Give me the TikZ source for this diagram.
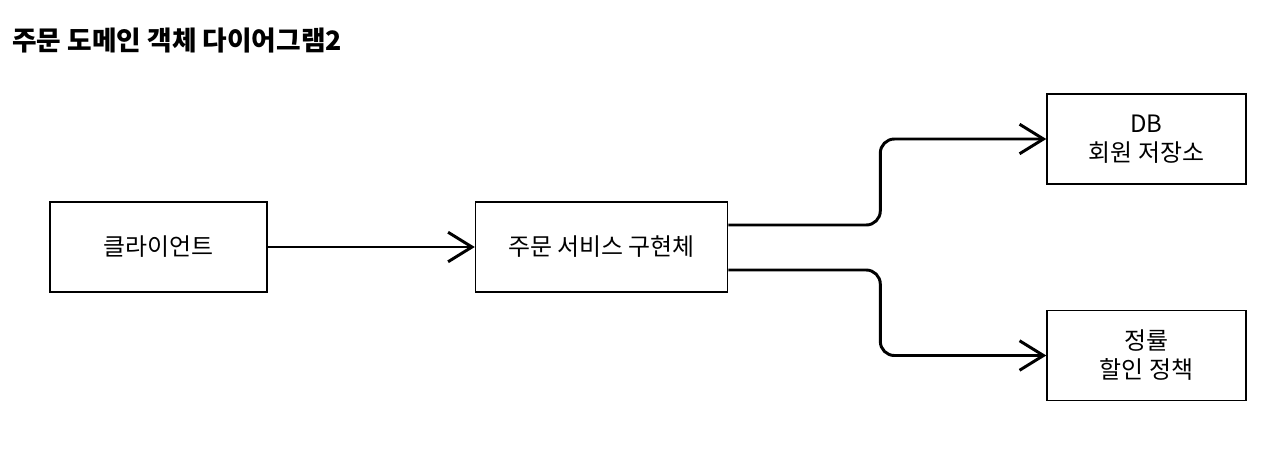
\documentclass[tikz,border=0pt]{standalone}
\usepackage{fontspec}
\setmainfont{Noto Sans CJK KR}
\usetikzlibrary{positioning, arrows.meta}

\begin{document}
\begin{tikzpicture}[
  x=0.025cm, y=-0.025cm,
  every node/.style={font=\fontsize{17}{20.6}\selectfont},
  box/.style={draw, line width=1pt, minimum width=5.425cm, minimum height=2.25cm,
    align=center, inner sep=0pt},
  arr/.style={-{Straight Barb[length=17pt, width=21pt]}, line width=2.1pt, rounded corners=10pt}
]
  \useasboundingbox (0,0) rectangle (1280,455);

  % Title
  \node[anchor=west, font=\fontsize{19}{22}\selectfont\bfseries, inner sep=0pt] (title) at (12,41)
    {주문 도메인 객체 다이어그램2};

  % Client
  \node[box] (client) at (158.5,247) {클라이언트};

  % Order service
  \node[box, right=5.175cm of client, minimum width=6.3cm] (svc) {주문 서비스 구현체};

  % Member repository
  \node[box, minimum width=4.975cm] (db) at (1146.5,139) {DB\\회원 저장소};

  % Rate discount policy
  \node[box, minimum width=4.975cm] (rate) at (1146.5,355.5) {정률\\할인 정책};

  % Arrows
  \draw[arr] (client) -- (svc);
  \draw[arr] ([yshift=0.55cm]svc.east) -- ++(3.8cm,0) |- (db.west);
  \draw[arr] ([yshift=-0.575cm]svc.east) -- ++(3.8cm,0) |- (rate.west);
\end{tikzpicture}
\end{document}
